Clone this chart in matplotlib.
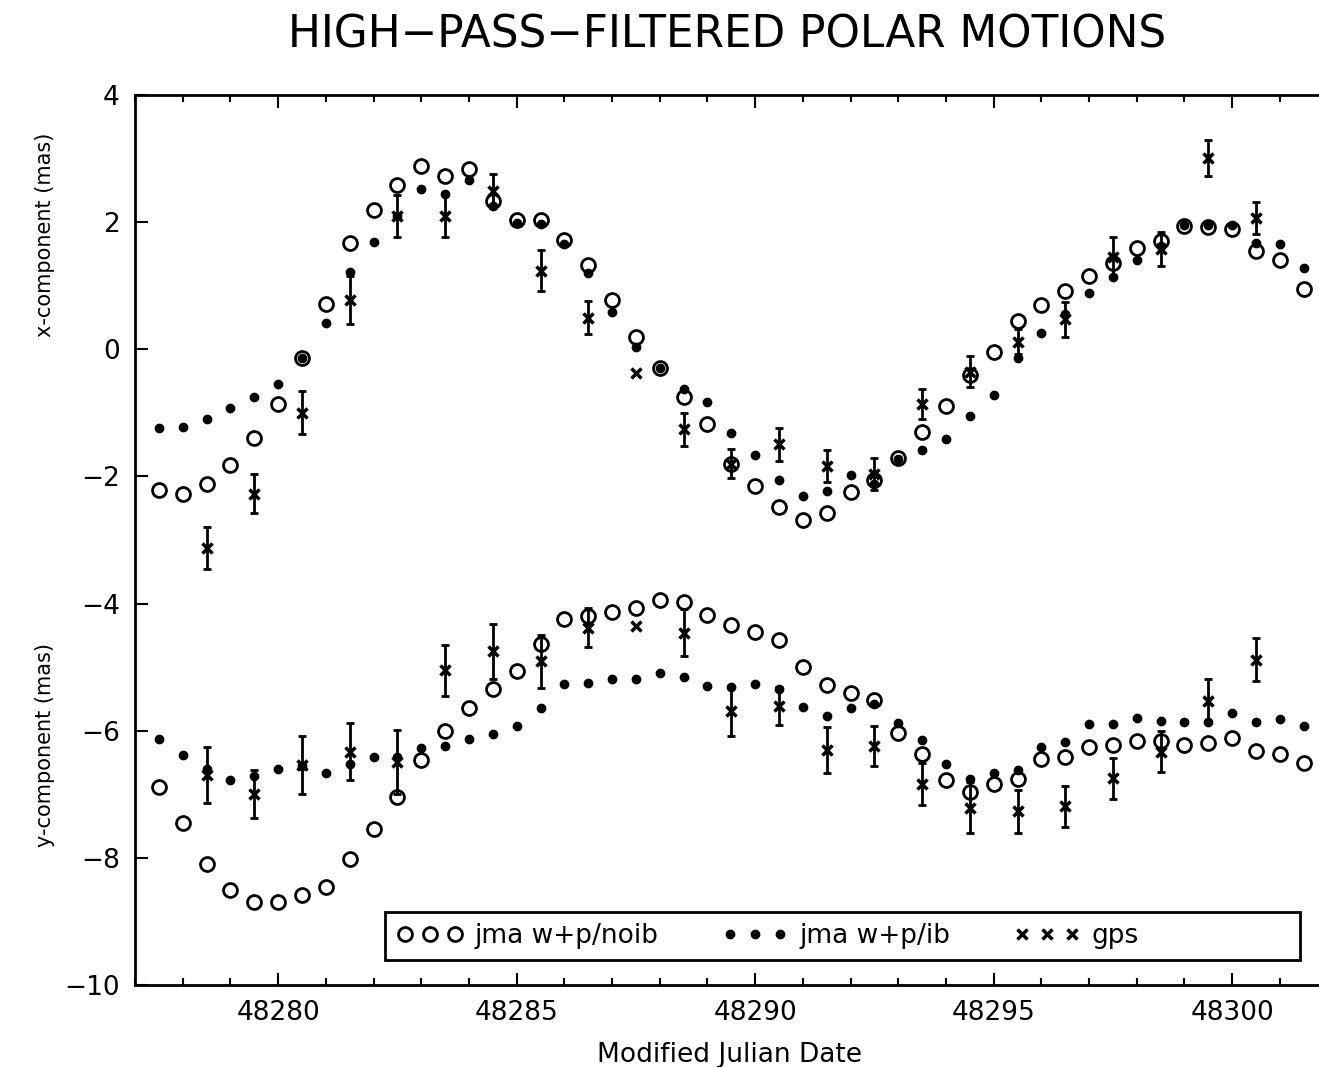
import numpy as np
import matplotlib.pyplot as plt
from matplotlib.ticker import MultipleLocator
from matplotlib.patches import Rectangle

# sampling dates (MJD)
mjd = np.arange(48277.5, 48302.0, 0.5)
gps_mjd = np.arange(48278.5, 48301.0, 1.0)

# x-component (mas)
x_noib = [-2.22, -2.28, -2.12, -1.82, -1.40, -0.86, -0.13, 0.71, 1.68, 2.19,
          2.58, 2.89, 2.72, 2.84, 2.33, 2.04, 2.04, 1.72, 1.32, 0.78,
          0.19, -0.29, -0.75, -1.18, -1.80, -2.15, -2.48, -2.69, -2.58, -2.25,
          -2.06, -1.71, -1.30, -0.89, -0.40, -0.04, 0.45, 0.70, 0.91, 1.16,
          1.36, 1.60, 1.71, 1.94, 1.93, 1.90, 1.55, 1.40, 0.95]
x_ib = [-1.23, -1.22, -1.10, -0.93, -0.75, -0.54, -0.13, 0.42, 1.22, 1.69,
        2.10, 2.52, 2.44, 2.67, 2.25, 1.98, 1.97, 1.65, 1.20, 0.58,
        0.04, -0.30, -0.63, -0.83, -1.32, -1.67, -2.05, -2.30, -2.23, -1.97,
        -2.12, -1.73, -1.59, -1.41, -1.05, -0.72, -0.14, 0.26, 0.55, 0.89,
        1.14, 1.40, 1.62, 1.95, 1.96, 1.96, 1.68, 1.66, 1.28]
x_gps = [-3.13, -2.27, -1.00, 0.78, 2.10, 2.10, 2.49, 1.24, 0.50, -0.38,
         -1.26, -1.80, -1.49, -1.83, -1.96, -0.86, -0.35, 0.12, 0.47, 1.46,
         1.58, 3.01, 2.07]
x_gps_err = [0.33, 0.31, 0.34, 0.38, 0.33, 0.33, 0.27, 0.32, 0.26, 0.0,
             0.26, 0.23, 0.26, 0.25, 0.25, 0.24, 0.25, 0.20, 0.27, 0.30,
             0.27, 0.29, 0.25]

# y-component (mas)
y_noib = [-6.89, -7.46, -8.10, -8.50, -8.69, -8.69, -8.59, -8.46, -8.02, -7.54,
          -7.04, -6.46, -6.01, -5.64, -5.34, -5.06, -4.63, -4.24, -4.19, -4.14,
          -4.07, -3.95, -3.98, -4.18, -4.33, -4.45, -4.58, -5.00, -5.28, -5.41,
          -5.51, -6.04, -6.36, -6.77, -6.97, -6.84, -6.76, -6.44, -6.42, -6.25,
          -6.23, -6.16, -6.16, -6.22, -6.20, -6.11, -6.32, -6.36, -6.51]
y_ib = [-6.13, -6.39, -6.60, -6.77, -6.72, -6.60, -6.55, -6.66, -6.53, -6.42,
        -6.41, -6.27, -6.24, -6.13, -6.05, -5.92, -5.65, -5.27, -5.25, -5.19,
        -5.19, -5.10, -5.16, -5.30, -5.31, -5.26, -5.34, -5.63, -5.77, -5.64,
        -5.58, -5.88, -6.15, -6.52, -6.76, -6.67, -6.62, -6.26, -6.17, -5.90,
        -5.89, -5.80, -5.85, -5.87, -5.87, -5.72, -5.87, -5.81, -5.93]
y_gps = [-6.69, -7.00, -6.54, -6.33, -6.49, -5.05, -4.75, -4.91, -4.38, -4.35,
         -4.46, -5.69, -5.61, -6.30, -6.24, -6.84, -7.21, -7.27, -7.19, -6.75,
         -6.33, -5.53, -4.88]
y_gps_err = [0.44, 0.38, 0.45, 0.45, 0.50, 0.40, 0.43, 0.42, 0.31, 0.0,
             0.37, 0.39, 0.30, 0.36, 0.32, 0.33, 0.40, 0.34, 0.32, 0.32,
             0.32, 0.35, 0.34]

fig = plt.figure(figsize=(13.19, 10.67), dpi=100)
ax = fig.add_axes([0.1024, 0.0769, 0.8976, 0.834])

def draw_component(noib, ib, gps, gps_err):
    h1, = ax.plot(mjd, noib, 'o', ls='none', mfc='none', mec='k', ms=10, mew=2)
    h2, = ax.plot(mjd, ib, 'o', ls='none', color='k', ms=6)
    gps = np.asarray(gps)
    err = np.asarray(gps_err)
    has = err > 0
    # error bars only where the gps point has one
    ax.errorbar(gps_mjd[has], gps[has], yerr=err[has], fmt='none', ecolor='k',
                elinewidth=2, capsize=3, capthick=2)
    h3, = ax.plot(gps_mjd, gps, 'x', ls='none', color='k', ms=7, mew=2.5)
    return h1, h2, h3

handles = draw_component(x_noib, x_ib, x_gps, x_gps_err)
draw_component(y_noib, y_ib, y_gps, y_gps_err)

ax.set_xlim(48277, 48301.82)
ax.set_ylim(-10, 4)
ax.xaxis.set_major_locator(MultipleLocator(5))
ax.xaxis.set_minor_locator(MultipleLocator(1))
ax.yaxis.set_major_locator(MultipleLocator(2))
ax.tick_params(which='both', direction='in', top=True, bottom=True, left=True,
               width=1.5, labelsize=19, pad=11)
ax.tick_params(which='major', length=9)
ax.tick_params(which='minor', length=5)
ax.xaxis.set_major_formatter(plt.FuncFormatter(lambda v, p: '%d' % v))
for side in ['left', 'bottom', 'top']:
    ax.spines[side].set_linewidth(2)
ax.spines['right'].set_visible(False)

# legend box drawn separately so the entries sit to the left as in the original
ax.add_patch(Rectangle((0.211, 0.028), 0.773, 0.054, transform=ax.transAxes,
                       fill=False, ec='k', lw=2, zorder=5))
ax.legend(handles, ['jma w+p/noib', 'jma w+p/ib', 'gps'], ncol=3,
          numpoints=3, loc='center left', bbox_to_anchor=(0.221, 0.055),
          fontsize=19, frameon=False, borderaxespad=0, borderpad=0,
          handlelength=2.5, handletextpad=0.45, columnspacing=2.4)

fig.text(0.551, 0.967, 'HIGH\u2212PASS\u2212FILTERED POLAR MOTIONS', ha='center',
         va='center', fontsize=31.5)
fig.text(0.034, 0.78, 'x-component (mas)', rotation=90, ha='center',
         va='center', fontsize=15)
fig.text(0.034, 0.302, 'y-component (mas)', rotation=90, ha='center',
         va='center', fontsize=15)
fig.text(0.553, 0.011, 'Modified Julian Date', ha='center', va='center',
         fontsize=19)

fig.savefig('out.png', dpi=100)
